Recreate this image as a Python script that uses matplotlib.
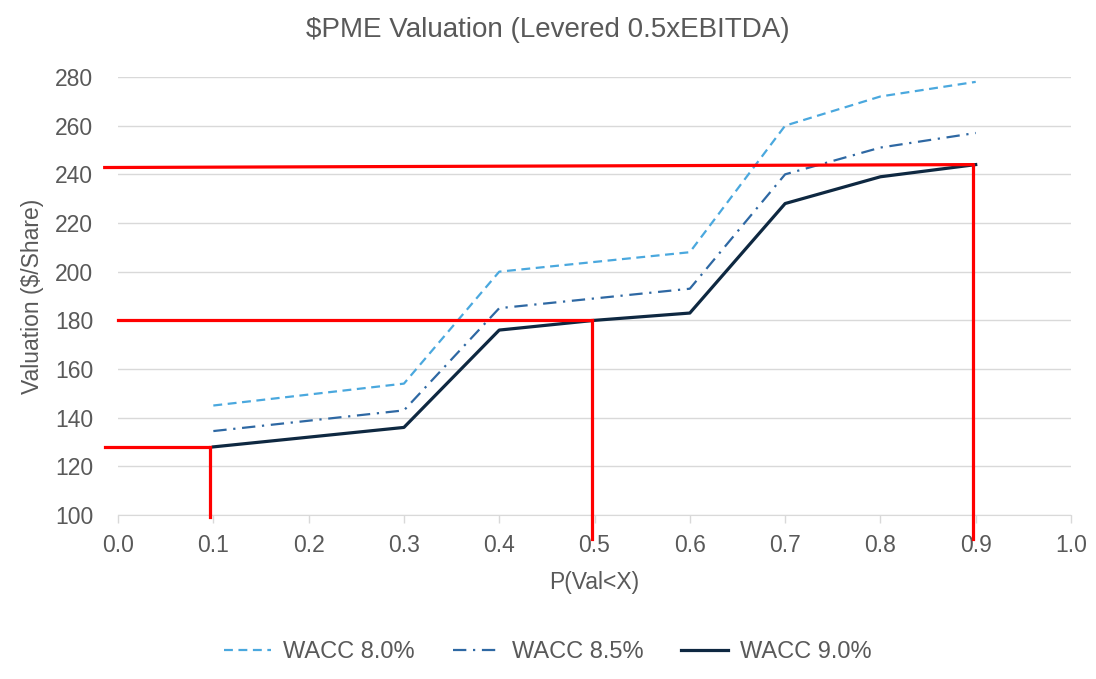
import numpy as np
import matplotlib
matplotlib.use("Agg")
import matplotlib.pyplot as plt

# Daten
p_val = [0.1, 0.3, 0.4, 0.5, 0.6, 0.7, 0.8, 0.9]
wacc_80 = [145, 154, 200, 204, 208, 260, 272, 278]
wacc_85 = [134.5, 143, 185, 189, 193, 240, 251, 257]
wacc_90 = [128, 136, 176, 180, 183, 228, 239, 244]

# rote Markierungen (Perzentil -> Wert)
ref_p = [0.1, 0.5, 0.9]
ref_val = [128, 180, 244]

plt.rcParams['font.family'] = ['Liberation Sans', 'DejaVu Sans']
grey = "#595959"

fig = plt.figure(figsize=(10.96, 6.79), dpi=100)
ax = fig.add_axes([0.1077, 0.2415, 0.8695, 0.6451])

ax.plot(p_val, wacc_80, color="#4AA8DE", lw=1.6, linestyle=(0, (4, 2.5)), label="WACC 8.0%")
ax.plot(p_val, wacc_85, color="#2E68A3", lw=1.6, linestyle=(0, (6, 3, 1, 3)), label="WACC 8.5%")
ax.plot(p_val, wacc_90, color="#0E2841", lw=2.3, label="WACC 9.0%")

# rote Hilfslinien
for p, v in zip(ref_p, ref_val):
    x0 = 0.0 if p == 0.5 else -0.014
    ax.plot([x0, p - 0.003], [v - 1.2 if p == 0.9 else v, v], color="#FF0000", lw=2.3,
            clip_on=False, zorder=5)
    y1 = 99.2 if p == 0.1 else 90
    ax.plot([p - 0.003, p - 0.003], [v, y1], color="#FF0000", lw=2.3, clip_on=False, zorder=5)

ax.set_xlim(0, 1)
ax.set_ylim(100, 280)
ax.set_xticks(np.arange(0, 1.01, 0.1))
ax.set_yticks(np.arange(100, 281, 20))
ax.set_xticklabels([f"{x:.1f}" for x in np.arange(0, 1.01, 0.1)])

ax.grid(axis="y", color="#D9D9D9", lw=1)
ax.set_axisbelow(True)
for s in ["top", "right", "left"]:
    ax.spines[s].set_visible(False)
ax.spines["bottom"].set_color("#D9D9D9")
ax.tick_params(axis="x", colors="#D9D9D9", length=6, width=1, labelcolor=grey, labelsize=16.5, pad=8)
ax.tick_params(axis="y", length=0, labelcolor=grey, labelsize=16.5, pad=18)

ax.set_xlabel("P(Val<X)", color=grey, fontsize=16.5, labelpad=10)
ax.set_ylabel("Valuation ($/Share)", color=grey, fontsize=16.5, labelpad=8)

fig.text(0.5, 0.956, "$PME Valuation (Levered 0.5xEBITDA)", color=grey, fontsize=20,
         ha="center", va="center")

fig.legend(loc="center", bbox_to_anchor=(0.5, 0.04), ncol=3, frameon=False,
           handlelength=2.0, columnspacing=1.6, handletextpad=0.5,
           labelcolor=grey, prop={'size': 17})

fig.savefig("out.png", dpi=100)
